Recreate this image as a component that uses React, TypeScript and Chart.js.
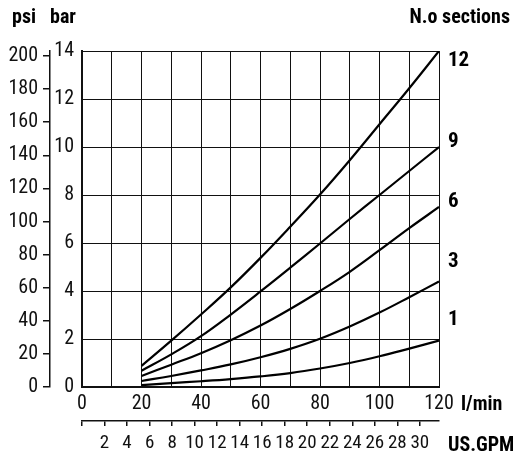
import React, { useEffect, useRef } from 'react';
import { Chart, registerables } from 'chart.js';

Chart.register(...registerables);

// Flow (l/min) at which the curves are sampled
const flowLpm = [20, 30, 40, 50, 60, 70, 80, 90, 100, 110, 120];
// Pressure drop (bar) per number of sections
const sections12 = [0.88, 1.93, 3.02, 4.15, 5.38, 6.68, 8.02, 9.45, 10.95, 12.45, 14.0];
const sections9 = [0.68, 1.36, 2.12, 3.02, 3.98, 4.97, 5.98, 7.0, 8.0, 9.0, 10.0];
const sections6 = [0.46, 0.93, 1.41, 1.95, 2.56, 3.25, 4.0, 4.8, 5.7, 6.62, 7.5];
const sections3 = [0.25, 0.46, 0.69, 0.94, 1.24, 1.59, 2.01, 2.52, 3.1, 3.74, 4.4];
const sections1 = [0.08, 0.16, 0.24, 0.33, 0.44, 0.58, 0.77, 1.0, 1.28, 1.6, 1.93];
const sectionNames = ['12', '9', '6', '3', '1'];
// bar value at which each section label sits
const sectionLabelBar = [13.6, 10.2, 7.7, 5.2, 2.8];

const BAR_TO_PSI = 14.5038;
const LPM_PER_GPM = 3.78541;
const BAR_MAX = 14;
const LPM_MAX = 120;

const FONT = "'Liberation Sans Narrow', 'Roboto Condensed', 'DejaVu Sans Condensed', 'Arial Narrow', sans-serif";

const textPlugin = {
  id: 'texts',
  afterDraw(chart: any) {
    const { ctx, chartArea, scales } = chart;
    ctx.save();
    ctx.fillStyle = '#000';
    ctx.font = `bold 20px ${FONT}`;
    ctx.textBaseline = 'alphabetic';
    ctx.textAlign = 'left';
    ctx.fillText('psi', 12, 23);
    ctx.fillText('bar', 50, 23);
    ctx.textAlign = 'right';
    ctx.fillText('N.o sections', 510, 23);
    ctx.textAlign = 'left';
    ctx.fillText('l/min', chartArea.right + 22, 410);
    ctx.fillText('US.GPM', chartArea.right + 9, 451);
    ctx.font = `bold 21px ${FONT}`;
    ctx.textBaseline = 'middle';
    sectionNames.forEach((name, i) => {
      ctx.fillText(name, chartArea.right + 9, scales.y.getPixelForValue(sectionLabelBar[i]));
    });
    ctx.restore();
  },
};

export default function App() {
  const ref = useRef<HTMLCanvasElement>(null);
  useEffect(() => {
    if (!ref.current) return;
    const series = [sections12, sections9, sections6, sections3, sections1];
    const chart = new Chart(ref.current, {
      type: 'line',
      data: {
        datasets: series.map((s, i) => ({
          label: sectionNames[i],
          data: s.map((v, j) => ({ x: flowLpm[j], y: v })),
          borderColor: '#000',
          borderWidth: 2.2,
          pointRadius: 0,
          fill: false,
          tension: 0.4,
          xAxisID: 'x',
          yAxisID: 'y',
        })),
      },
      options: {
        animation: false,
        responsive: false,
        events: [],
        layout: { padding: { top: 51, right: 79, bottom: 0, left: 0 } },
        plugins: { legend: { display: false }, tooltip: { enabled: false } },
        scales: {
          x: {
            type: 'linear',
            position: 'bottom',
            weight: 0,
            min: 0,
            max: LPM_MAX,
            ticks: {
              stepSize: 10,
              autoSkip: false,
              maxRotation: 0,
              padding: 5,
              color: '#111',
              font: { family: FONT, size: 20 },
              callback: (v: any) => (Number(v) % 20 === 0 ? String(v) : ''),
            },
            grid: { color: '#111', lineWidth: 1, drawTicks: false },
            border: { color: '#111', width: 2 },
            afterFit: (s: any) => { s.height = 34; },
          },
          gpm: {
            type: 'linear',
            position: 'bottom',
            axis: 'x',
            weight: 1,
            min: 0,
            max: LPM_MAX / LPM_PER_GPM,
            ticks: {
              stepSize: 2,
              includeBounds: false,
              autoSkip: false,
              maxRotation: 0,
              padding: 6,
              color: '#111',
              font: { family: FONT, size: 19 },
              callback: (v: any) => (Number(v) === 0 ? '' : String(v)),
            },
            grid: { drawOnChartArea: false, drawTicks: true, tickLength: 5, color: '#111', lineWidth: 1.5 },
            border: { display: true, color: '#111', width: 1.5 },
            afterFit: (s: any) => { s.height = 32; },
          },
          y: {
            type: 'linear',
            position: 'left',
            weight: 0,
            min: 0,
            max: BAR_MAX,
            ticks: {
              stepSize: 2,
              padding: 8,
              color: '#111',
              font: { family: FONT, size: 20 },
            },
            grid: { color: '#111', lineWidth: 1, drawTicks: false },
            border: { color: '#111', width: 2 },
            afterFit: (s: any) => { s.width = 32; },
          },
          psi: {
            type: 'linear',
            position: 'left',
            axis: 'y',
            weight: 1,
            min: 0,
            max: BAR_MAX * BAR_TO_PSI,
            ticks: {
              stepSize: 20,
              includeBounds: false,
              padding: 5,
              color: '#111',
              font: { family: FONT, size: 20 },
            },
            grid: { drawOnChartArea: false, drawTicks: true, tickLength: 7, color: '#111', lineWidth: 1.5 },
            border: { display: true, color: '#111', width: 1.5 },
            afterFit: (s: any) => { s.width = 50; },
          },
        },
      } as any,
      plugins: [textPlugin],
    });
    return () => chart.destroy();
  }, []);
  return (
    <div style={{ position: 'absolute', left: 0, top: 0, width: 518, height: 453, background: '#fff' }}>
      <canvas ref={ref} width={518} height={453} />
    </div>
  );
}
